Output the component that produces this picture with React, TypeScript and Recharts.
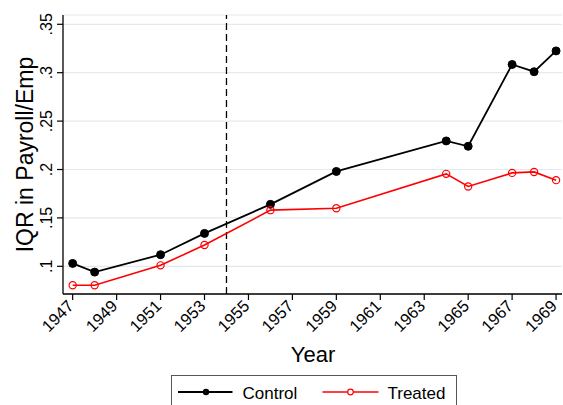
import React from 'react';
import { LineChart, Line, XAxis, YAxis, CartesianGrid, ReferenceLine, Legend } from 'recharts';

const years = [1947, 1948, 1951, 1953, 1956, 1959, 1964, 1965, 1967, 1968, 1969];
const control = [0.103, 0.094, 0.112, 0.134, 0.164, 0.198, 0.2295, 0.224, 0.3085, 0.301, 0.3225];
const treated = [0.0805, 0.0805, 0.101, 0.122, 0.158, 0.16, 0.1955, 0.1825, 0.1965, 0.1975, 0.189];
const xTicks = [1947, 1949, 1951, 1953, 1955, 1957, 1959, 1961, 1963, 1965, 1967, 1969];
const yTicks = [0.1, 0.15, 0.2, 0.25, 0.3, 0.35];
const treatmentYear = 1954;
const seriesNames = ['Control', 'Treated'];
const xTitle = 'Year';
const yTitle = 'IQR in Payroll/Emp';

const data = years.map((yr, i) => ({ year: yr, control: control[i], treated: treated[i] }));

const FONT = '"Liberation Sans", Arial, Helvetica, sans-serif';

const fmtY = (v: number) => {
  const s = String(Math.round(v * 100) / 100);
  return s.startsWith('0') ? s.slice(1) : s;
};

const YTick = (props: any) => {
  const { x, y, payload } = props;
  const bx = x - 2.5;
  return (
    <text x={bx} y={y} transform={`rotate(-90, ${bx}, ${y})`} textAnchor="middle" fontSize={16} fontFamily={FONT} fill="#000">
      {fmtY(payload.value)}
    </text>
  );
};

const XTick = (props: any) => {
  const { x, y, payload } = props;
  const ax = x + 2;
  const ay = y + 7;
  return (
    <text x={ax} y={ay} transform={`rotate(-45, ${ax}, ${ay})`} textAnchor="end" fontSize={16.5} fontFamily={FONT} fill="#000">
      {payload.value}
    </text>
  );
};

const LegendBox = () => (
  <svg width={287} height={32} style={{ display: 'block' }}>
    <rect x={0.5} y={0.5} width={285} height={40} fill="#fff" stroke="#555" strokeWidth={1} />
    <line x1={7} y1={17} x2={61.5} y2={17} stroke="#000" strokeWidth={1.8} />
    <circle cx={35} cy={17} r={3.2} fill="#000" />
    <text x={71.5} y={23.5} fontSize={17} fontFamily={FONT} fill="#000">{seriesNames[0]}</text>
    <line x1={151.5} y1={17} x2={207.5} y2={17} stroke="#ff0000" strokeWidth={1.6} />
    <circle cx={179.5} cy={17} r={2.8} fill="#fff" stroke="#ff0000" strokeWidth={1.2} />
    <text x={216.5} y={23.5} fontSize={17} fontFamily={FONT} fill="#000">{seriesNames[1]}</text>
  </svg>
);

const YLabel = () => (
  <text x={33} y={154.5} transform="rotate(-90, 33, 154.5)" textAnchor="middle" fontSize={23} fontFamily={FONT} fill="#000">
    {yTitle}
  </text>
);

const XLabel = () => (
  <text x={313} y={362} textAnchor="middle" fontSize={22} fontFamily={FONT} fill="#000">
    {xTitle}
  </text>
);

export default function App() {
  return (
    <div style={{ position: 'absolute', left: 0, top: 0, width: 563, height: 405, background: '#fff', overflow: 'hidden' }}>
      <LineChart width={563} height={405} data={data} margin={{ top: 15, right: 1, bottom: 0, left: 0 }}>
        <CartesianGrid horizontal={true} vertical={false} stroke="#e3eaed" strokeWidth={1.2} />
        <XAxis
          dataKey="year"
          type="number"
          domain={[1946.56, 1969.27]}
          allowDataOverflow
          ticks={xTicks}
          interval={0}
          height={111}
          tickSize={6}
          tickMargin={0}
          tick={<XTick />}
          axisLine={{ stroke: '#000', strokeWidth: 1.3 }}
          tickLine={{ stroke: '#000', strokeWidth: 1.2 }}
          label={<XLabel />}
        />
        <YAxis
          type="number"
          domain={[0.0714, 0.3596]}
          allowDataOverflow
          ticks={yTicks}
          interval={0}
          width={63}
          tickSize={6}
          tickMargin={2}
          tick={<YTick />}
          axisLine={{ stroke: '#000', strokeWidth: 1.3 }}
          tickLine={{ stroke: '#000', strokeWidth: 1.2 }}
          label={<YLabel />}
        />
        <ReferenceLine x={treatmentYear} stroke="#000" strokeWidth={1.3} strokeDasharray="7 4" />
        <Line
          dataKey="control"
          name={seriesNames[0]}
          type="linear"
          stroke="#000"
          strokeWidth={1.8}
          dot={{ r: 4, fill: '#000', stroke: '#000', strokeWidth: 1 }}
          isAnimationActive={false}
        />
        <Line
          dataKey="treated"
          name={seriesNames[1]}
          type="linear"
          stroke="#ff0000"
          strokeWidth={1.6}
          dot={{ r: 3.6, fill: 'none', stroke: '#ff0000', strokeWidth: 1.2 }}
          isAnimationActive={false}
        />
        <Legend
          layout="horizontal"
          verticalAlign="middle"
          align="center"
          content={<LegendBox />}
          wrapperStyle={{ position: 'absolute', left: 171, top: 375, width: 287, height: 32 }}
        />
      </LineChart>
    </div>
  );
}
